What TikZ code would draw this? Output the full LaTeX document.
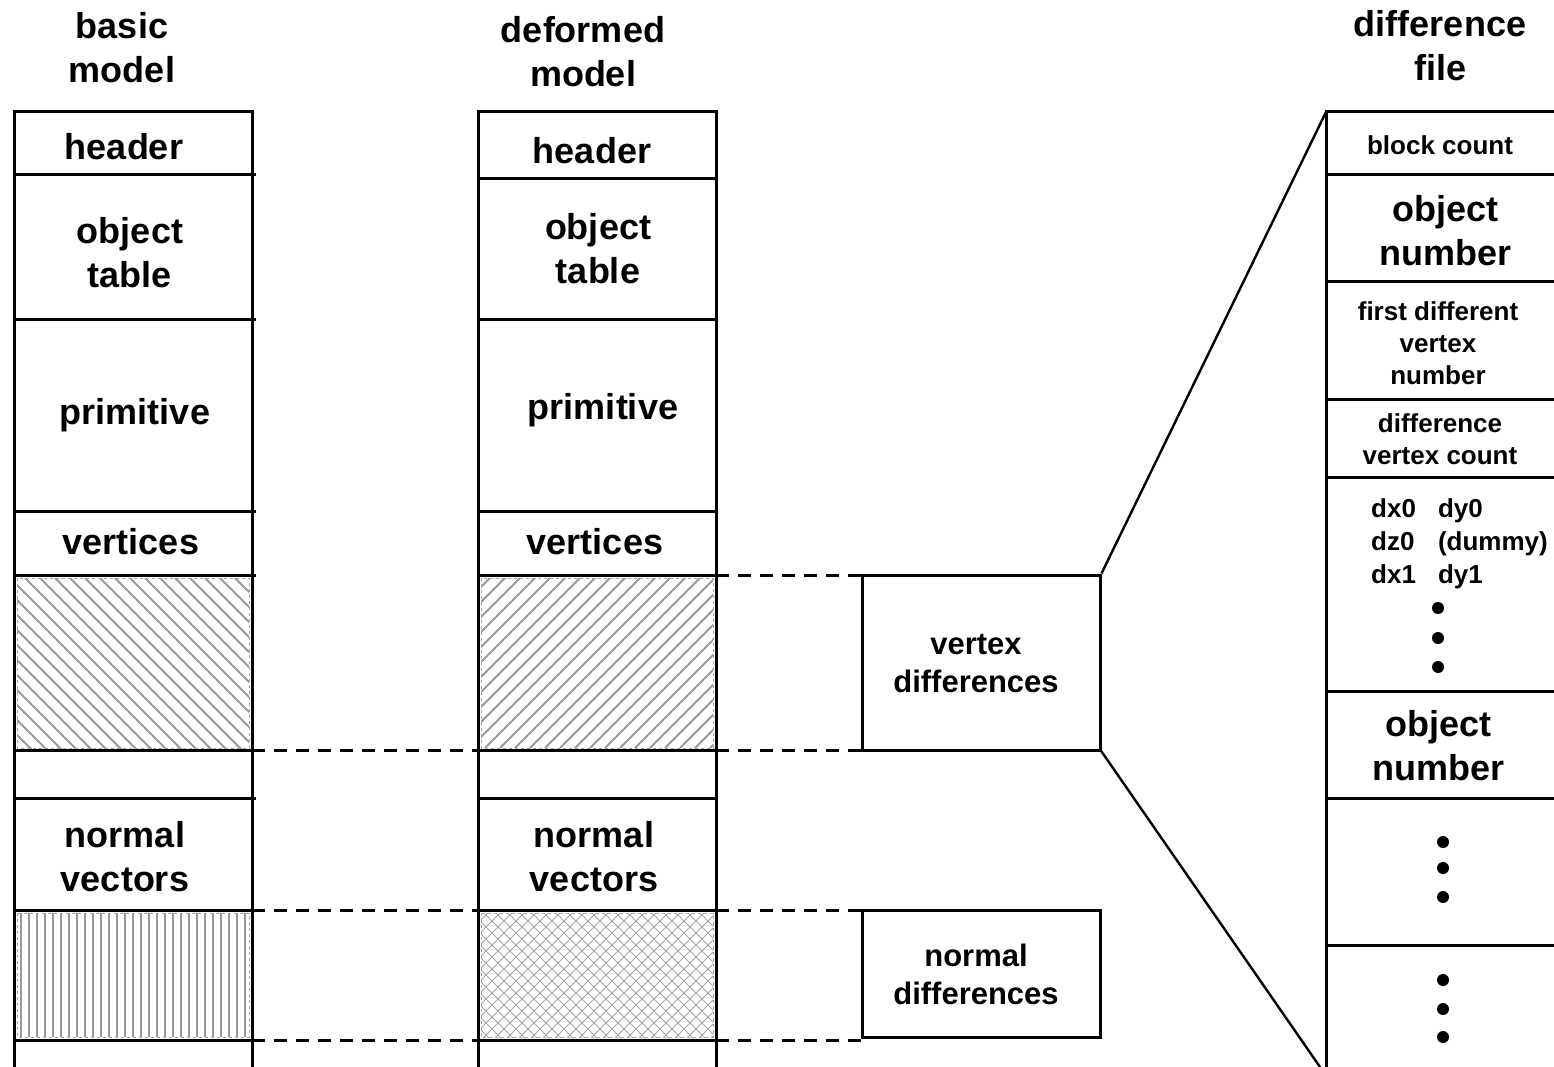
\documentclass[tikz,border=0pt]{standalone}
\usepackage{fontspec}
\setmainfont{Liberation Sans}
\begin{document}
\begin{tikzpicture}[x=1pt,y=-1pt,
  frame/.style={line width=3pt, line cap=rect},
  link/.style={line width=3pt, dash pattern=on 13pt off 9pt},
  big/.style={font=\fontsize{36}{44}\selectfont\bfseries, align=center, inner sep=0pt},
  mid/.style={font=\fontsize{31}{38}\selectfont\bfseries, align=center, inner sep=0pt},
  small/.style={font=\fontsize{26}{32}\selectfont\bfseries, align=center, inner sep=0pt},
  boxn/.style={draw, line width=3pt, minimum width=238pt, inner sep=0pt},
  hatch/.style={line width=2pt, black!40},
  fine/.style={line width=1pt, black!36},
  hatchedge/.style={line width=0.8pt, black!35, dash pattern=on 3pt off 3pt},
  dot/.style={circle, fill=black, inner sep=0pt, minimum size=12pt}]
\useasboundingbox (0,0) rectangle (1554,1067);

% ---------- hatched fills ----------
\begin{scope}
  \clip (17,578) rectangle (249,748);
  \foreach \i in {-200,-185,...,260} \draw[hatch] (\i,578) -- ++(180,180);
\end{scope}
\draw[hatchedge] (17,578) rectangle (249,748);

\begin{scope}
  \clip (481,578) rectangle (713,748);
  \foreach \i in {260,275,...,740} \draw[hatch] (\i,748) -- ++(180,-180);
\end{scope}
\draw[hatchedge] (481,578) rectangle (713,748);

\begin{scope}
  \clip (17,913) rectangle (249,1037);
  \foreach \i in {21,29,...,245} \draw[hatch, line width=1.6pt] (\i,913) -- (\i,1037);
\end{scope}
\draw[hatchedge] (17,913) rectangle (249,1037);

\begin{scope}
  \clip (481,913) rectangle (713,1037);
  \foreach \i in {340,352,...,720} {
    \draw[fine] (\i,913) -- ++(130,130);
    \draw[fine] (\i,1037) -- ++(130,-130);
  }
\end{scope}
\draw[hatchedge] (481,913) rectangle (713,1037);

% ---------- basic model ----------
\draw[frame, line cap=butt] (14,1067) -- (14,112) -- (252,112) -- (252,1067);
\foreach \y in {175,319,511,575,750,798,910,1040} \draw[frame] (14,\y) -- (254,\y);

\node[big] (bTitle) at (122,48) {basic\\model};
\node[big] (bHead)  at (124,147) {header};
\node[big] (bObj)   at (130,253) {object\\table};
\node[big] (bPrim)  at (135,415) {primitive};
\node[big] (bVert)  at (131,542) {vertices};
\node[big] (bNorm)  at (125,857) {normal\\vectors};

% ---------- deformed model ----------
\draw[frame, line cap=butt] (478,1067) -- (478,112) -- (716,112) -- (716,1067);
\foreach \y in {179,319,511,575,750,798,910,1040} \draw[frame] (478,\y) -- (716,\y);

\node[big] (dTitle) at (583,52) {deformed\\model};
\node[big] (dHead)  at (592,151) {header};
\node[big] (dObj)   at (598,249) {object\\table};
\node[big] (dPrim)  at (603,410) {primitive};
\node[big] (dVert)  at (595,542) {vertices};
\node[big] (dNorm)  at (594,857) {normal\\vectors};

% ---------- dashed links between the columns ----------
\foreach \y in {750,910,1040} {
  \coordinate (bl\y) at (252,\y);
  \coordinate (dl\y) at (478,\y);
  \draw[link] (bl\y) -- (dl\y);
}

% ---------- difference blocks ----------
\node[boxn, minimum height=175pt] (vdiff) at (981,662.5) {};
\node[mid] (vdiffText) at (976,664) {vertex\\differences};
\node[boxn, minimum height=127pt] (ndiff) at (981,974) {};
\node[mid] (ndiffText) at (976,974) {normal\\differences};

\foreach \y in {575,750,910,1040} \coordinate (dr\y) at (716,\y);
\draw[link] (dr575) -- (dr575 -| vdiff.west);
\draw[link] (dr750) -- (dr750 -| vdiff.west);
\draw[link] (dr910) -- (dr910 -| ndiff.west);
\draw[link] (dr1040) -- (dr1040 -| ndiff.west);

% ---------- difference file ----------
\coordinate (fTop) at (1326,112);
\coordinate (fBot) at (1320,1067);
\draw[line width=2.4pt] (vdiff.north east) -- (fTop);
\draw[line width=2.4pt] (vdiff.south east) -- (fBot);

\draw[frame, line cap=butt] (1326,1067) -- (fTop) -- (1554,112);
\foreach \y in {175,281,399,477,691,798,945} \draw[frame] (1326,\y) -- (1554,\y);

\node[big] (fTitle) at (1440,46) {difference\\file};
\node[small] (fCount) at (1440,145) {block count};
\node[big] (fObjA) at (1445,231) {object\\number};
\node[small] (fFirst) at (1438,343) {first different\\vertex\\number};
\node[small] (fVcnt) at (1440,439) {difference\\vertex count};
\node[inner sep=0pt, anchor=north west, font=\fontsize{26}{33}\selectfont\bfseries] (fData) at (1371,494)
  {\begin{tabular}{@{}l@{\hspace{22pt}}l@{}}dx0 & dy0\\ dz0 & (dummy)\\ dx1 & dy1\end{tabular}};
\node[dot] (p1) at (1438,608) {};
\node[dot] (p2) at (1438,638) {};
\node[dot] (p3) at (1438,667) {};
\node[big] (fObjB) at (1438,746) {object\\number};
\node[dot] (q1) at (1443,842) {};
\node[dot] (q2) at (1443,868) {};
\node[dot] (q3) at (1443,897) {};
\node[dot] (r1) at (1443,980) {};
\node[dot] (r2) at (1443,1009) {};
\node[dot] (r3) at (1443,1037) {};
\end{tikzpicture}
\end{document}
